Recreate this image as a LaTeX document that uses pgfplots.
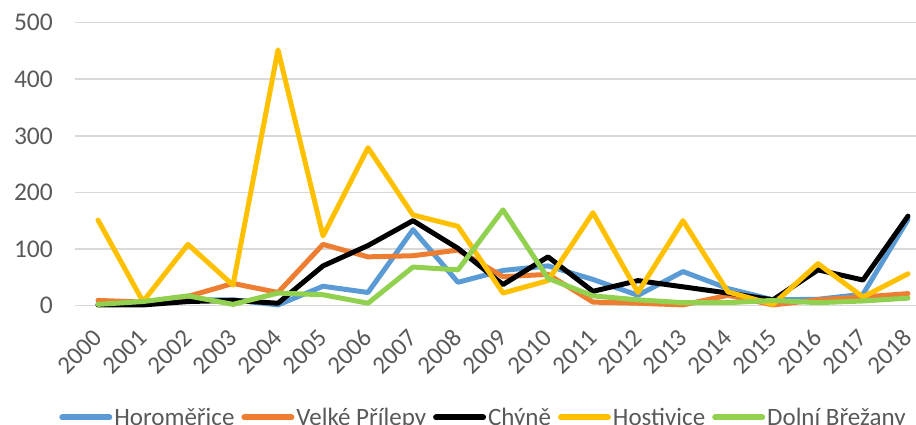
\documentclass[border=0pt]{standalone}
\usepackage{pgfplots}
\pgfplotsset{compat=1.18}
\usepackage{pgfplotstable}
\usepackage{fontspec}
\setmainfont{Carlito}
\definecolor{cblue}{HTML}{5B9BD5}
\definecolor{corange}{HTML}{ED7D31}
\definecolor{cyellow}{HTML}{FFC000}
\definecolor{cgreen}{HTML}{92D050}
\definecolor{cgrid}{HTML}{D9D9D9}
\definecolor{ctext}{HTML}{595959}
\pgfplotstableread{
x hor vel chy hos dol
0 2 9 1 151 2
1 5 6 1 7 7
2 10 16 7 108 17
3 10 39 9 36 2
4 1 23 4 452 22
5 34 108 70 123 19
6 23 86 106 279 4
7 134 88 150 160 68
8 41 98 101 140 63
9 62 51 37 22 169
10 70 55 86 44 48
11 46 6 25 164 17
12 18 4 44 23 10
13 60 1 33 150 5
14 30 18 22 24 5
15 10 1 10 2 9
16 11 10 63 74 5
17 20 15 45 15 8
18 152 21 158 56 13
}\datatable
\begin{document}
\begin{tikzpicture}
\begin{axis}[
  at={(75.5pt,119.5pt)}, anchor=south west,
  scale only axis, width=840.5pt, height=282.8pt,
  xmin=-0.5, xmax=18.178, ymin=0, ymax=500,
  clip=false,
  axis line style={draw=none},
  major tick length=0pt,
  ymajorgrids, grid style={cgrid, line width=1.6pt},
  ytick={0,100,200,300,400,500},
  xtick={0,...,18},
  xticklabels={2000,2001,2002,2003,2004,2005,2006,2007,2008,2009,2010,2011,2012,2013,2014,2015,2016,2017,2018},
  /pgf/number format/assume math mode=true,
  ticklabel style={text=ctext, inner sep=0pt},
  yticklabel style={font=\fontsize{25.5}{30}\selectfont, anchor=east, xshift=-22.5pt},
  xticklabel style={font=\fontsize{25}{30}\selectfont, anchor=east, yshift=-28pt, rotate=45},
  legend columns=5,
  legend style={at={(0.4854,-0.396)}, anchor=center, draw=none, fill=none,
    font=\fontsize{25}{30}\selectfont, text=ctext, inner sep=0pt,
    nodes={inner sep=2pt},
    /tikz/every even column/.append style={column sep=5pt}},
  legend image code/.code={\draw[#1, line width=6pt, line cap=round] (0pt,0pt) -- (47pt,0pt);},
  every axis plot/.append style={line width=5pt, line join=round, line cap=round},
]
\addplot[cblue] table[x=x,y=hor]{\datatable};
\addlegendentry{Horoměřice}
\addplot[corange] table[x=x,y=vel]{\datatable};
\addlegendentry{Velké Přílepy}
\addplot[black] table[x=x,y=chy]{\datatable};
\addlegendentry{Chýně}
\addplot[cyellow] table[x=x,y=hos]{\datatable};
\addlegendentry{Hostivice}
\addplot[cgreen] table[x=x,y=dol]{\datatable};
\addlegendentry{Dolní Břežany}
\end{axis}
\pgfresetboundingbox
\path[use as bounding box] (0,0) rectangle (916pt,425pt);
\end{tikzpicture}
\end{document}
